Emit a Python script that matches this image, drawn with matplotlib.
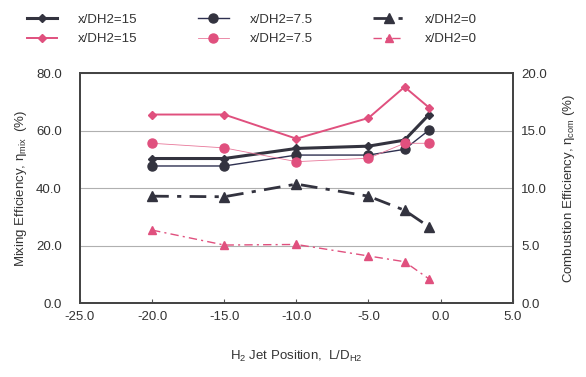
import numpy as np
from matplotlib import pyplot as plt
from matplotlib.ticker import FormatStrFormatter

plt.rcParams['font.family'] = ['Liberation Sans Narrow', 'Liberation Sans', 'DejaVu Sans']
plt.rcParams['mathtext.fontset'] = 'custom'
plt.rcParams['mathtext.rm'] = 'Liberation Sans'
plt.rcParams['mathtext.it'] = 'Liberation Sans'

# jet positions L/D_H2
jet_pos = [-20.0, -15.0, -10.0, -5.0, -2.5, -0.8]

# mixing efficiency (left axis, %)
mix_15 = [50.3, 50.3, 53.8, 54.6, 56.7, 65.6]
mix_75 = [47.7, 47.7, 51.5, 51.5, 53.5, 60.2]
mix_0 = [37.2, 37.0, 41.4, 37.2, 32.3, 26.5]

# combustion efficiency (right axis, %)
com_15 = [16.4, 16.4, 14.3, 16.1, 18.8, 17.0]
com_75 = [13.9, 13.5, 12.3, 12.6, 13.9, 13.9]
com_0 = [6.35, 5.05, 5.1, 4.1, 3.6, 2.1]

labels = ['x/DH2=15', 'x/DH2=15', 'x/DH2=7.5', 'x/DH2=7.5', 'x/DH2=0', 'x/DH2=0']

dark = '#33333f'
navy = '#2e3050'
pink = '#e0507e'
lpink = '#e8789a'

fig = plt.figure(figsize=(5.86, 3.77), dpi=100)
ax = fig.add_axes([0.1365, 0.196, 0.7385, 0.61])
ax2 = ax.twinx()

h1, = ax.plot(jet_pos, mix_15, color=dark, lw=2.2, marker='D', ms=4.5, mfc=dark, mec=dark)
h3, = ax.plot(jet_pos, mix_75, color=navy, lw=1.0, marker='o', ms=6.5, mfc=dark, mec=dark)
h5, = ax.plot(jet_pos, mix_0, color=dark, lw=2.0, ls=(0, (6, 3, 1.5, 3)), marker='^', ms=6.5, mfc=dark, mec=dark)

h2, = ax2.plot(jet_pos, com_15, color=pink, lw=1.4, marker='D', ms=4.5, mfc=pink, mec=pink)
h4, = ax2.plot(jet_pos, com_75, color=lpink, lw=0.6, marker='o', ms=6.5, mfc=pink, mec=pink)
h6, = ax2.plot(jet_pos, com_0, color=pink, lw=1.0, ls=(0, (6, 3, 1.5, 3)), marker='^', ms=6, mfc=pink, mec=pink)

ax.set_xlim(-25, 5)
ax.set_ylim(0, 80)
ax2.set_ylim(0, 20)
ax.set_xticks(np.arange(-25, 5.1, 5))
ax.set_yticks(np.arange(0, 80.1, 20))
ax2.set_yticks(np.arange(0, 20.1, 5))
ax.xaxis.set_major_formatter(FormatStrFormatter('%.1f'))
ax.yaxis.set_major_formatter(FormatStrFormatter('%.1f'))
ax2.yaxis.set_major_formatter(FormatStrFormatter('%.1f'))

ax.grid(axis='y', color='#b0b0b0', lw=0.8)
ax.set_axisbelow(True)
ax.tick_params(axis='x', direction='in', length=3, color='#555555', labelsize=9.5, colors='#333333', pad=6)
ax.tick_params(axis='y', length=0, labelsize=9.5, colors='#333333', pad=13)
ax2.tick_params(axis='y', length=0, labelsize=9.5, colors='#333333', pad=6)
for a in (ax, ax2):
    for s in a.spines.values():
        s.set_color('#444444')
        s.set_linewidth(1.3)

ax.set_ylabel('Mixing Efficiency, $\\eta_{mix}$  (%)', fontsize=9.5, color='#333333', labelpad=5)
ax2.set_ylabel('Combustion Efficiency, $\\eta_{com}$ (%)', fontsize=9.5, color='#333333', labelpad=10)
ax.set_xlabel('H$_2$ Jet Position,  L/D$_{H2}$', fontsize=9.5, color='#333333', labelpad=18)

fig.legend([h1, h2, h3, h4, h5, h6], labels, ncol=3, loc='upper left',
           bbox_to_anchor=(0.025, 0.995), frameon=False, fontsize=9.5,
           handlelength=2.3, handletextpad=1.6, columnspacing=4.6,
           labelspacing=0.55, labelcolor='#333333')

fig.savefig('out.png', dpi=100)
